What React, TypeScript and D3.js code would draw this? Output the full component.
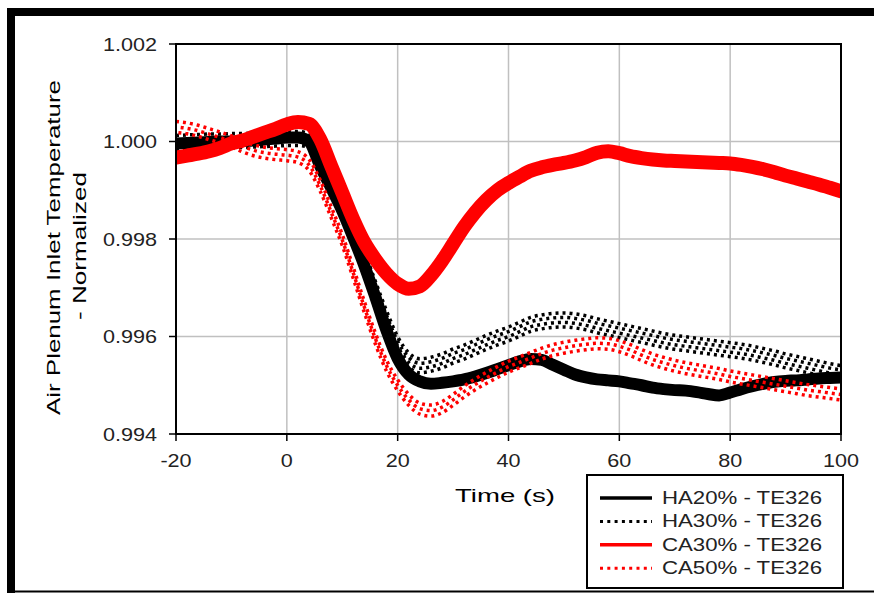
import React from 'react';
import * as d3 from 'd3';

const times = [-20,-18,-16,-14,-12,-10,-8,-6,-4,-2,0,2,4,6,8,10,12,14,16,18,20,22,24,26,28,30,32,34,36,38,40,42,44,46,48,50,52,54,56,58,60,62,64,66,68,70,72,74,76,78,80,82,84,86,88,90,92,94,96,98,100];

const ha20 = [0.99996,0.99997,0.99998,0.99999,1.00000,1.00000,1.00001,1.00002,1.00004,1.00006,1.00008,1.00008,1.00000,0.99950,0.99905,0.99858,0.99803,0.99745,0.99680,0.99612,0.99555,0.99522,0.99508,0.99503,0.99505,0.99508,0.99512,0.99518,0.99525,0.99533,0.99541,0.99549,0.99554,0.99552,0.99542,0.99532,0.99522,0.99516,0.99512,0.99510,0.99508,0.99504,0.99500,0.99495,0.99492,0.99490,0.99489,0.99486,0.99482,0.99479,0.99485,0.99492,0.99498,0.99503,0.99507,0.99509,0.99510,0.99512,0.99514,0.99515,0.99516];

const ha30 = [0.99998,0.99999,1.00000,1.00001,1.00001,1.00002,1.00002,1.00003,1.00004,1.00005,1.00006,1.00006,1.00002,0.99962,0.99918,0.99870,0.99818,0.99760,0.99698,0.99638,0.99585,0.99552,0.99540,0.99543,0.99550,0.99560,0.99568,0.99578,0.99588,0.99597,0.99605,0.99615,0.99625,0.99630,0.99633,0.99634,0.99632,0.99628,0.99622,0.99617,0.99612,0.99607,0.99602,0.99597,0.99592,0.99588,0.99585,0.99582,0.99579,0.99576,0.99573,0.99570,0.99566,0.99561,0.99556,0.99550,0.99545,0.99540,0.99535,0.99530,0.99526];

const ca30 = [0.99967,0.99971,0.99975,0.99980,0.99987,0.99996,1.00002,1.00010,1.00018,1.00026,1.00035,1.00040,1.00036,1.00005,0.99950,0.99895,0.99840,0.99793,0.99758,0.99729,0.99708,0.99698,0.99703,0.99725,0.99755,0.99790,0.99825,0.99855,0.99880,0.99900,0.99915,0.99928,0.99940,0.99947,0.99952,0.99956,0.99961,0.99968,0.99977,0.99980,0.99976,0.99970,0.99966,0.99963,0.99961,0.99960,0.99959,0.99958,0.99957,0.99956,0.99955,0.99952,0.99948,0.99943,0.99937,0.99930,0.99924,0.99918,0.99912,0.99905,0.99898];

const ca50 = [1.00030,1.00027,1.00022,1.00015,1.00008,1.00000,0.99990,0.99982,0.99977,0.99974,0.99972,0.99968,0.99952,0.99910,0.99855,0.99798,0.99730,0.99660,0.99595,0.99540,0.99500,0.99470,0.99452,0.99448,0.99455,0.99470,0.99487,0.99502,0.99515,0.99527,0.99538,0.99547,0.99556,0.99565,0.99572,0.99577,0.99581,0.99584,0.99586,0.99585,0.99580,0.99572,0.99562,0.99553,0.99546,0.99540,0.99535,0.99531,0.99527,0.99523,0.99518,0.99514,0.99510,0.99506,0.99502,0.99498,0.99494,0.99490,0.99487,0.99484,0.99481];

const seriesNames = ['HA20% - TE326', 'HA30% - TE326', 'CA30% - TE326', 'CA50% - TE326'];
const xTicks = [-20, 0, 20, 40, 60, 80, 100];
const yTicks = [0.994, 0.996, 0.998, 1.000, 1.002];
const yTickLabels = ['0.994', '0.996', '0.998', '1.000', '1.002'];
const xTitle = 'Time (s)';
const yTitle1 = 'Air Plenum Inlet Temperature';
const yTitle2 = '- Normalized';

const FONT = '"Liberation Sans", Arial, sans-serif';

export default function App() {
  const x = d3.scaleLinear().domain([-20, 100]).range([176, 841]);
  const y = d3.scaleLinear().domain([0.994, 1.002]).range([434, 44]);
  const mk = (vals: number[]) =>
    d3.line<number>().x((_, i) => x(times[i])).y((v) => y(v)).curve(d3.curveMonotoneX)(vals) || '';

  const styles = [
    { color: '#000', dotted: false, w: 12, offs: [0] },
    { color: '#000', dotted: true, w: 3.5, offs: [-7, -2.5, 2.5, 7] },
    { color: '#f00', dotted: false, w: 14, offs: [0] },
    { color: '#f00', dotted: true, w: 3.5, offs: [-5.5, 0, 5.5] },
  ];
  const data = [ha20, ha30, ca30, ca50];

  return (
    <svg width={874} height={593} style={{ position: 'absolute', left: 0, top: 0, background: '#fff' }}>
      <defs>
        <clipPath id="plotclip">
          <rect x={176} y={44} width={665} height={390} />
        </clipPath>
      </defs>
      {/* outer frame */}
      <rect x={7} y={8} width={867} height={8} fill="#000" />
      <rect x={7} y={8} width={8} height={585} fill="#000" />
      <line x1={15} x2={874} y1={591.5} y2={591.5} stroke="#000" strokeWidth={2} />

      {/* grid */}
      {xTicks.slice(1, -1).map((t) => (
        <line key={'gx' + t} x1={x(t)} x2={x(t)} y1={44} y2={434} stroke="#c0c0c0" strokeWidth={1.5} />
      ))}
      {yTicks.slice(1, -1).map((t) => (
        <line key={'gy' + t} x1={176} x2={841} y1={y(t)} y2={y(t)} stroke="#c0c0c0" strokeWidth={1.5} />
      ))}

      {/* series */}
      <g clipPath="url(#plotclip)">
        {data.map((vals, i) => {
          const s = styles[i];
          const d = mk(vals);
          if (!s.dotted) {
            return (
              <path key={i} d={d} fill="none" stroke={s.color} strokeWidth={s.w}
                strokeLinejoin="round" strokeLinecap="round" />
            );
          }
          return (
            <g key={i}>
              {s.offs.map((off, j) => (
                <path key={j} d={d} transform={`translate(0,${off})`} fill="none" stroke={s.color}
                  strokeWidth={s.w} strokeDasharray="3 4" strokeDashoffset={j * 2.3} />
              ))}
            </g>
          );
        })}
      </g>

      {/* plot border */}
      <rect x={176} y={44} width={665} height={390} fill="none" stroke="#000" strokeWidth={2} />

      {/* ticks */}
      {yTicks.map((t) => (
        <line key={'ty' + t} x1={169} x2={176} y1={y(t)} y2={y(t)} stroke="#000" strokeWidth={1.5} />
      ))}
      {xTicks.map((t) => (
        <line key={'tx' + t} x1={x(t)} x2={x(t)} y1={434} y2={441} stroke="#000" strokeWidth={1.5} />
      ))}

      {/* tick labels */}
      {yTicks.map((t, i) => (
        <g key={'ly' + t} transform={`translate(157,${y(t) + 6.5}) scale(1.2,1)`}>
          <text x={0} y={0} textAnchor="end" fontFamily={FONT} fontSize={18} fill="#222">{yTickLabels[i]}</text>
        </g>
      ))}
      {xTicks.map((t) => (
        <g key={'lx' + t} transform={`translate(${x(t)},467) scale(1.2,1)`}>
          <text x={0} y={0} textAnchor="middle" fontFamily={FONT} fontSize={18} fill="#222">{String(t)}</text>
        </g>
      ))}

      {/* axis titles */}
      <text x={455} y={502} fontFamily={FONT} fontSize={19} textLength={100} lengthAdjust="spacingAndGlyphs" fill="#000">{xTitle}</text>
      <text transform="translate(60,247.5) rotate(-90)" textAnchor="middle" fontFamily={FONT} fontSize={19}
        textLength={335} lengthAdjust="spacingAndGlyphs" fill="#000">{yTitle1}</text>
      <text transform="translate(86,246) rotate(-90)" textAnchor="middle" fontFamily={FONT} fontSize={19}
        textLength={148} lengthAdjust="spacingAndGlyphs" fill="#000">{yTitle2}</text>

      {/* legend */}
      <rect x={587} y={475} width={256} height={113} fill="#fff" stroke="#000" strokeWidth={2} />
      {seriesNames.map((name, i) => {
        const s = styles[i];
        const cy = 498 + i * 23.4;
        return (
          <g key={name}>
            <line x1={600} x2={652} y1={cy} y2={cy} stroke={s.color} strokeWidth={s.dotted ? 3 : 3.5}
              strokeDasharray={s.dotted ? '3 4.3' : undefined} />
            <text x={662} y={cy + 6} fontFamily={FONT} fontSize={18.5} textLength={160}
              lengthAdjust="spacingAndGlyphs" fill="#222">{name}</text>
          </g>
        );
      })}
    </svg>
  );
}
